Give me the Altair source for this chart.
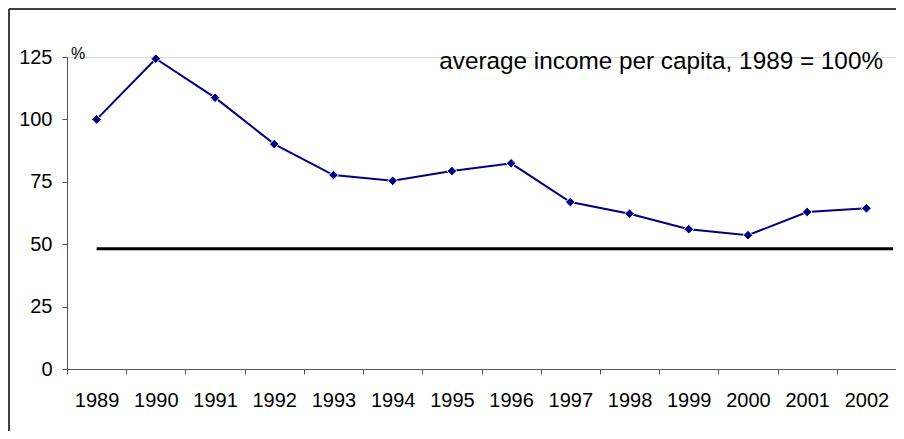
import altair as alt
import pandas as pd

years = ["1989", "1990", "1991", "1992", "1993", "1994", "1995", "1996",
         "1997", "1998", "1999", "2000", "2001", "2002"]
income = [100, 124.3, 108.7, 90.1, 77.7, 75.4, 79.3, 82.4, 66.9, 62.2, 56.0, 53.6, 62.9, 64.4]
threshold = 48.2
y_ticks = [0, 25, 50, 75, 100, 125]
title_text = "average income per capita, 1989 = 100%"
unit_text = "%"

W, H = 829, 312

df = pd.DataFrame({"year": years, "income": income})
df_thr = pd.DataFrame({"year": [years[0]], "v": [threshold]})

x_enc = alt.X("year:O", sort=years, title=None,
              scale=alt.Scale(paddingInner=0, paddingOuter=0),
              axis=alt.Axis(labelAngle=0, labelFont="Liberation Sans", labelFontSize=20,
                            labelColor="black", tickBand="extent", tickSize=5,
                            tickColor="#555555", domainColor="#555555",
                            labelAlign="center",
                            labelBaseline="alphabetic", labelPadding=32, grid=False))
y_scale = alt.Scale(domain=[0, 125], nice=False)
y_axis = alt.Axis(values=y_ticks, labelFont="Liberation Sans", labelFontSize=20,
                  labelColor="black", tickSize=5, tickColor="#555555",
                  domainColor="#555555", labelPadding=10, grid=False, title=None)

line = alt.Chart(df).mark_line(color="#000080", strokeWidth=2).encode(
    x=x_enc, y=alt.Y("income:Q", scale=y_scale, axis=y_axis))
pts = alt.Chart(df).mark_point(shape="diamond", filled=True, fill="#000080",
                               stroke="white", strokeWidth=1,
                               size=95, opacity=1).encode(
    x=alt.X("year:O", sort=years), y=alt.Y("income:Q", scale=y_scale))

hline = alt.Chart(df_thr).mark_rule(color="black", strokeWidth=3).encode(
    x=alt.X("year:O", sort=years), x2=alt.value(W - 3),
    y=alt.Y("v:Q", scale=y_scale))

title = alt.Chart(pd.DataFrame({"t": [title_text]})).mark_text(
    align="right", baseline="alphabetic", font="Liberation Sans", fontSize=24.3,
    color="black").encode(text="t:N", x=alt.value(816), y=alt.value(12))
unit = alt.Chart(pd.DataFrame({"t": [unit_text]})).mark_text(
    align="left", baseline="middle", font="Liberation Sans", fontSize=16,
    color="black").encode(text="t:N", x=alt.value(4), y=alt.value(-3))

frame_left = alt.Chart(pd.DataFrame({"a": [0]})).mark_rule(
    color="black", strokeWidth=1.5, clip=False).encode(
    x=alt.value(-58), y=alt.value(-48), y2=alt.value(H + 62))
frame_top = alt.Chart(pd.DataFrame({"a": [0]})).mark_rule(
    color="black", strokeWidth=1.5, clip=False).encode(
    x=alt.value(-58), x2=alt.value(W), y=alt.value(-48))

chart = alt.layer(hline, line, pts, title, unit, frame_left, frame_top).properties(
    width=W, height=H,
    autosize=alt.AutoSizeParams(type="none"),
    padding={"left": 59, "top": 49, "right": 0, "bottom": 62},
).configure_view(stroke=None).configure(background="white")

chart.save("out.html", embed_options={"renderer": "svg", "actions": False})
